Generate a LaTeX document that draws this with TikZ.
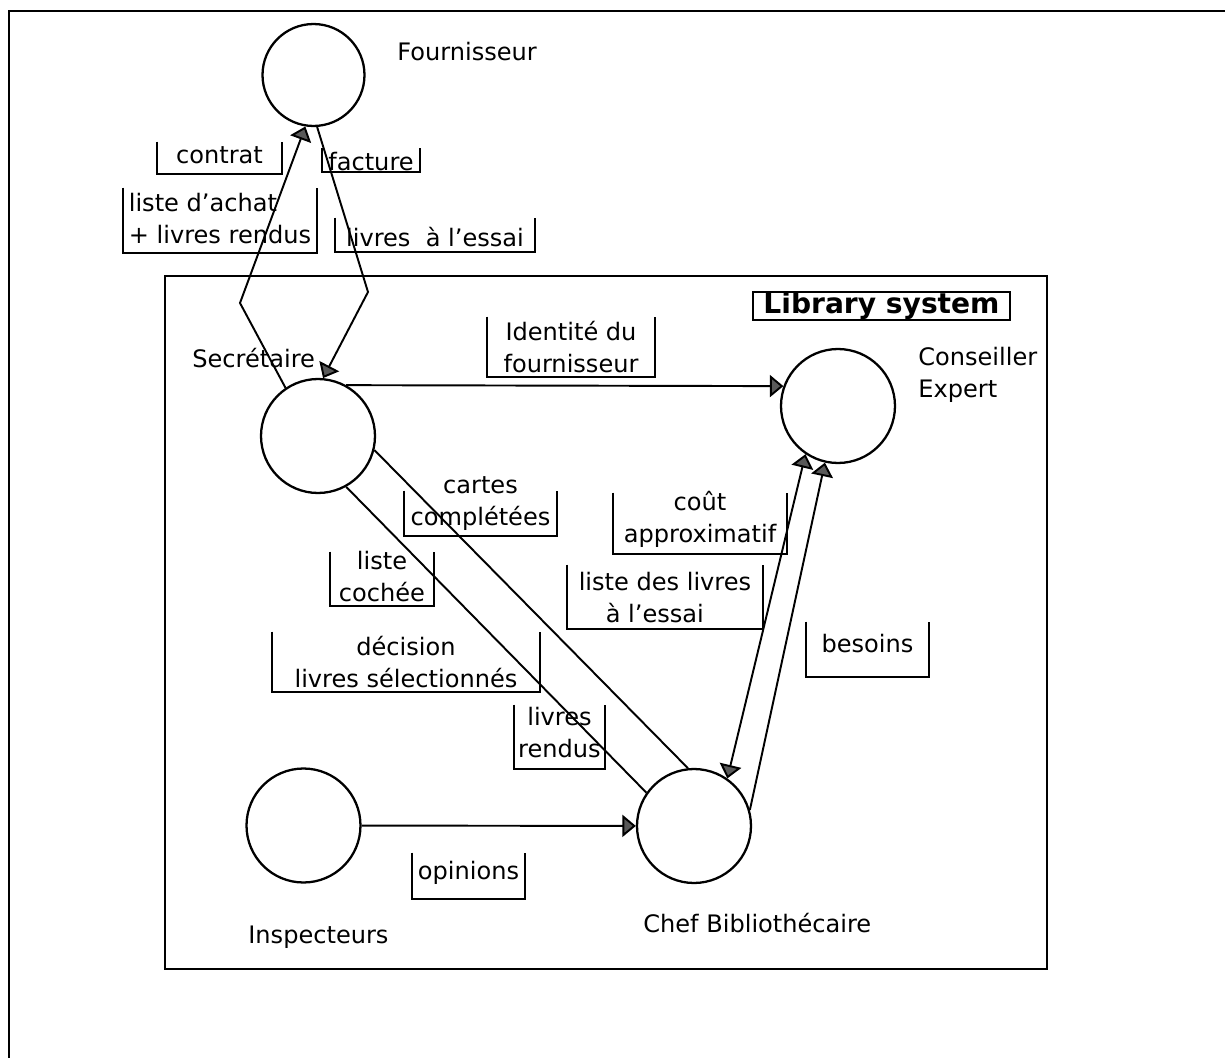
\documentclass[tikz,border=0pt]{standalone}
\usepackage{fontspec}
\setmainfont{DejaVu Sans}
\usetikzlibrary{arrows.meta}

\begin{document}
\begin{tikzpicture}[x=0.02cm, y=-0.02cm,
    font=\fontsize{13.7}{18}\selectfont,
    >={Triangle[length=0.27cm, width=0.44cm, fill=black!65]},
    proc/.style={draw, circle, line width=1.3pt, inner sep=0pt, minimum size=2.28cm},
    who/.style={inner sep=0pt, anchor=base west},
    flow/.style={inner sep=0pt, anchor=base},
    conn/.style={line width=1.1pt}]
    \useasboundingbox (0,0) rectangle (1225,1058);

    % Frames
    \draw[line width=1.2pt] (9,11) rectangle (1240,1075);
    \draw[line width=1.1pt] (165,276) rectangle (1047,969);
    \node[draw, line width=1.1pt, inner sep=0pt, minimum width=5.14cm, minimum height=0.56cm,
          font=\fontsize{16}{18}\selectfont\bfseries] (title) at (881.5,306) {Library system};

    % Processes
    \node[proc, minimum size=2.04cm] (four) at (313.5,75) {};
    \node[proc] (sec) at (318,436) {};
    \node[proc] (cons) at (838,406) {};
    \node[proc] (insp) at (303.5,825.5) {};
    \node[proc] (chef) at (694,826) {};

    % Names
    \node[who] (fourname) at (397,60) {Fournisseur};
    \node[who] (secname) at (192,367) {Secrétaire};
    \node[who, align=left] (consname) at (918,397) {Conseiller\\Expert};
    \node[who] (inspname) at (248,943) {Inspecteurs};
    \node[who] (chefname) at (643,932) {Chef Bibliothécaire};

    % Flow labels (base = last line)
    \node[flow, minimum width=2.5cm, text height=0.42cm, text depth=0.22cm] (contrat) at (219.5,163) {contrat};
    \node[flow, minimum width=1.96cm, text height=0.44cm, text depth=0.04cm] (facture) at (371,170) {facture};
    \node[flow, align=left, minimum width=3.88cm, text height=1.1cm, text depth=0.2cm] (achat) at (220,243) {liste d'achat\\+ livres rendus};
    \node[flow, minimum width=4cm, text height=0.56cm, text depth=0.12cm] (essai) at (435,246) {livres\ \ à l'essai};
    \node[flow, align=center, minimum width=3.36cm, text height=1.1cm, text depth=0.1cm] (identite) at (571,372) {Identité du\\fournisseur};
    \node[flow, align=center, minimum width=3.06cm, text height=0.68cm, text depth=0.22cm] (cartes) at (480.5,525) {cartes\\complétées};
    \node[flow, align=center, minimum width=2.08cm, text height=0.98cm, text depth=0.1cm] (cochee) at (382,601) {liste\\cochée};
    \node[flow, align=center, minimum width=5.36cm, text height=1.1cm, text depth=0.1cm] (decision) at (406,687) {décision\\livres sélectionnés};
    \node[flow, align=center, minimum width=1.82cm, text height=1.04cm, text depth=0.24cm] (rendus) at (559.5,757) {livres\\rendus};
    \node[flow, align=center, minimum width=3.48cm, text height=0.98cm, text depth=0.24cm] (cout) at (700,542) {coût\\approximatif};
    \node[flow, align=left, minimum width=3.92cm, text height=1.14cm, text depth=0.14cm] (liste) at (665,622) {liste des livres\\\hspace*{0.54cm}à l'essai};
    \node[flow, minimum width=2.46cm, text height=0.6cm, text depth=0.5cm] (besoins) at (867.5,652) {besoins};
    \node[flow, minimum width=2.26cm, text height=0.52cm, text depth=0.4cm] (opinions) at (468.5,879) {opinions};
    \foreach \n in {contrat,facture,achat,essai,identite,cartes,cochee,decision,rendus,cout,liste,besoins,opinions}
      \draw[conn] (\n.north west) |- (\n.south east) -- (\n.north east);

    % Flows
    \coordinate (bendL) at (240,303);
    \coordinate (bendR) at (368,292);
    \draw[conn, ->] (sec.124) -- (bendL) -- (four.-99);
    \draw[conn, ->] (four.-86) -- (bendR) -- (sec.85);
    \draw[conn, ->] (sec.61) -- (cons.160);
    \draw[conn] (sec.-14) -- (chef.96);
    \draw[conn] (sec.-61) -- (chef.145);
    \draw[conn, <->] (chef.55) -- (cons.-124);
    \draw[conn, ->] (chef.16) -- (cons.-103);
    \draw[conn, ->] (insp) -- (chef);
\end{tikzpicture}
\end{document}
